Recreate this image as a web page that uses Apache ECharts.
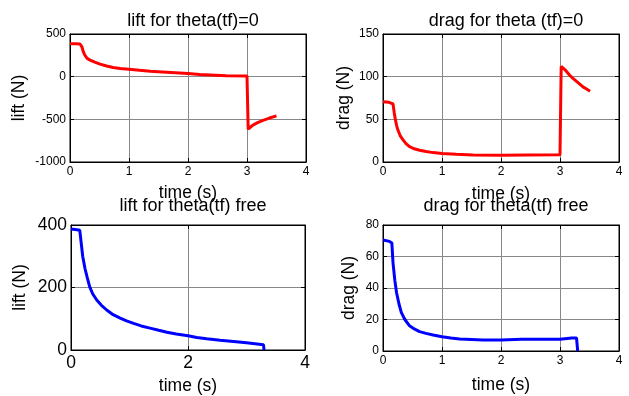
<!DOCTYPE html>
<html><head><meta charset="utf-8">
<script src="https://cdn.jsdelivr.net/npm/echarts@6/dist/echarts.min.js"></script>
<style>html,body{margin:0;padding:0;background:#fff}#c{width:629px;height:396px}</style>
</head><body><div id="c"></div>
<script>
// lift for theta(tf)=0
const lift0T = [0, 0.1, 0.17, 0.2, 0.225, 0.25, 0.29, 0.34, 0.42, 0.51, 0.62, 0.73, 0.85, 1.0, 1.18, 1.36, 1.64, 2.0, 2.2, 2.65, 3.0, 3.02, 3.06, 3.1, 3.18, 3.27, 3.38, 3.5];
const lift0V = [385, 385, 382, 353, 294, 254, 214, 194, 170, 147, 125, 107, 96, 87, 74, 63, 52, 36, 24, 12, 8, -615, -590, -567, -538, -512, -485, -460];
// drag for theta(tf)=0
const drag0T = [0, 0.1, 0.17, 0.19, 0.21, 0.23, 0.25, 0.29, 0.34, 0.39, 0.45, 0.53, 0.62, 0.73, 0.85, 1.0, 1.24, 1.53, 2.0, 2.43, 3.0, 3.02, 3.05, 3.1, 3.16, 3.22, 3.28, 3.34, 3.39, 3.45, 3.51];
const drag0V = [70.5, 70, 68, 58, 49.6, 43, 38, 31, 26, 21.5, 18, 15.5, 13.7, 12.2, 11, 10, 9, 8.2, 7.8, 8.2, 8.6, 112, 112, 107, 102, 98, 94.5, 91, 88, 85.5, 83];
// lift for theta(tf) free
const liftFT = [0, 0.1, 0.15, 0.2, 0.24, 0.28, 0.32, 0.37, 0.44, 0.52, 0.61, 0.72, 0.84, 0.95, 1.07, 1.2, 1.35, 1.5, 1.64, 1.8, 2.0, 2.15, 2.32, 2.55, 2.78, 3.0, 3.29, 3.3];
const liftFV = [387, 385, 383, 300, 260, 230, 202, 180, 160, 143, 128, 113, 102, 93, 85, 77, 70, 63, 57, 51, 45.5, 40, 36, 31, 27.5, 23, 17, 0];
// drag for theta(tf) free
const dragFT = [0, 0.11, 0.15, 0.17, 0.2, 0.23, 0.27, 0.31, 0.37, 0.45, 0.53, 0.62, 0.73, 0.85, 1.0, 1.15, 1.3, 1.7, 2.0, 2.35, 3.0, 3.2, 3.28, 3.3];
const dragFV = [70.5, 69.6, 68.6, 56, 45, 37, 30, 24.5, 20, 16, 14, 12.3, 11.2, 10.2, 9.1, 8.3, 7.6, 7.0, 7.0, 7.4, 7.4, 8.3, 8.3, 0];

const titles = ['lift for theta(tf)=0', 'drag for theta (tf)=0', 'lift for theta(tf) free', 'drag for theta(tf) free'];
const yNames = ['lift (N)', 'drag (N)', 'lift (N)', 'drag (N)'];
const xName = 'time (s)';
const yRanges = [[-1000, 500, 500], [0, 150, 50], [0, 400, 200], [0, 80, 20]];
const xIntervals = [1, 1, 2, 1];

const zip = (t, v) => t.map((x, i) => [x, v[i]]);
const series = [zip(lift0T, lift0V), zip(drag0T, drag0V), zip(liftFT, liftFV), zip(dragFT, dragFV)];
const colors = ['#ff0000', '#ff0000', '#0000ff', '#0000ff'];

const grids = [
  {left: 70, top: 34, width: 236, height: 128},
  {left: 383, top: 34, width: 236, height: 128},
  {left: 71, top: 225, width: 234, height: 126},
  {left: 383, top: 225, width: 236, height: 126}
];
const tickFont = [12, 12, 17.5, 12];
const titlePos = [[188, 7], [501, 7], [188, 192], [501, 192]];
const xGap = [22, 23, 27, 25];
const yGap = [42, 30, 42, 25];
const font = 'Liberation Sans, Arial, sans-serif';

const xAxes = [], yAxes = [];
grids.forEach((g, i) => {
  xAxes.push({
    gridIndex: i, type: 'value', min: 0, max: 4, interval: xIntervals[i],
    name: xName, nameLocation: 'middle', nameGap: xGap[i],
    nameTextStyle: {fontSize: 17.5, color: '#000', fontFamily: font},
    axisLine: {show: true, onZero: false, lineStyle: {color: '#000', width: 1}},
    axisTick: {show: true, inside: true, length: 4, lineStyle: {color: '#000'}},
    axisLabel: {fontSize: tickFont[i], color: '#000', fontFamily: font, margin: 4},
    splitLine: {show: true, lineStyle: {color: '#888', width: 1}}
  });
  xAxes.push({
    gridIndex: i, type: 'value', min: 0, max: 4, interval: xIntervals[i], position: 'top',
    axisLine: {show: true, onZero: false, lineStyle: {color: '#000', width: 1}},
    axisTick: {show: true, inside: true, length: 4, lineStyle: {color: '#000'}},
    axisLabel: {show: false}, splitLine: {show: false}
  });
  yAxes.push({
    gridIndex: i, type: 'value', min: yRanges[i][0], max: yRanges[i][1], interval: yRanges[i][2],
    name: yNames[i], nameLocation: 'middle', nameGap: yGap[i],
    nameTextStyle: {fontSize: 17.5, color: '#000', fontFamily: font},
    axisLine: {show: true, onZero: false, lineStyle: {color: '#000', width: 1}},
    axisTick: {show: true, inside: true, length: 4, lineStyle: {color: '#000'}},
    axisLabel: {fontSize: tickFont[i], color: '#000', fontFamily: font, margin: 4, formatter: v => String(v)},
    splitLine: {show: true, lineStyle: {color: '#888', width: 1}}
  });
  yAxes.push({
    gridIndex: i, type: 'value', min: yRanges[i][0], max: yRanges[i][1], interval: yRanges[i][2], position: 'right',
    axisLine: {show: true, onZero: false, lineStyle: {color: '#000', width: 1}},
    axisTick: {show: true, inside: true, length: 4, lineStyle: {color: '#000'}},
    axisLabel: {show: false}, splitLine: {show: false}
  });
});

const option = {
  animation: false,
  title: titles.map((t, i) => ({
    text: t, left: titlePos[i][0], top: titlePos[i][1], textAlign: 'center',
    textStyle: {fontSize: 18, fontWeight: 'normal', color: '#000', fontFamily: font}
  })),
  grid: grids.map(g => Object.assign({show: true, borderColor: '#000', borderWidth: 1, backgroundColor: '#fff'}, g)),
  xAxis: xAxes,
  yAxis: yAxes,
  series: series.map((d, i) => ({
    type: 'line', xAxisIndex: 2 * i, yAxisIndex: 2 * i, data: d, showSymbol: false,
    smooth: false, lineStyle: {color: colors[i], width: 3}, itemStyle: {color: colors[i]}
  }))
};
echarts.init(document.getElementById('c')).setOption(option);
</script></body></html>
